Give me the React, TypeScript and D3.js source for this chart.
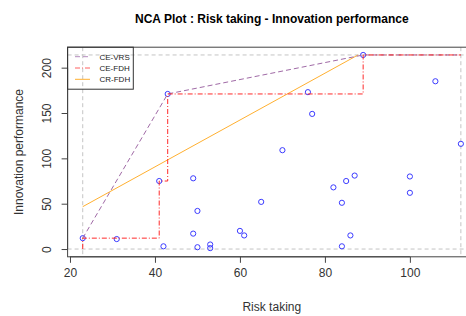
import React, { useRef, useEffect } from 'react'
import * as d3 from 'd3'

const riskTaking = [23, 31, 41, 42, 43, 49, 49, 50, 50, 53, 53, 60, 61, 65, 70, 76, 77, 82, 84, 84, 85, 86, 87, 89, 100, 100, 106, 112]
const innovation = [12, 11, 75, 3, 171, 78, 17, 42, 2, 5, 1, 20, 15, 52, 109, 173, 149, 68, 51, 3, 75, 15, 81, 214, 80, 62, 185, 116]

// ceiling lines
const ceVrs: [number, number][] = [[23, 12], [43, 171], [89, 214], [112, 214]]
const ceFdh: [number, number][] = [[23, 0], [23, 12], [41, 75], [43, 171], [89, 214], [112, 214]]
const crFdh: [number, number][] = [[23, 46.7], [87.8, 214]]

const xTicks = [20, 40, 60, 80, 100]
const yTicks = [0, 50, 100, 150, 200]
const legendLabels = ['CE-VRS', 'CE-FDH', 'CR-FDH']

const W = 466
const H = 316
const font = 'Liberation Sans, Arial, sans-serif'

const App = () => {
  const ref = useRef<SVGSVGElement>(null)

  useEffect(() => {
    const svg = d3.select(ref.current)
    svg.selectAll('*').remove()

    const xMin = d3.min(riskTaking)!, xMax = d3.max(riskTaking)!
    const yMax = d3.max(innovation)!
    const yMin = 0
    const xPad = (xMax - xMin) * 0.04
    const yPad = (yMax - yMin) * 0.04

    const left = 67.6, right = 476, top = 47.2, bottom = 256.8
    const x = d3.scaleLinear().domain([xMin - xPad, xMax + xPad]).range([left, right])
    const y = d3.scaleLinear().domain([yMin - yPad, yMax + yPad]).range([bottom, top])

    // scope lines
    const scope = svg.append('g')
      .attr('stroke', '#c4c4c4').attr('stroke-dasharray', '4,3').attr('stroke-width', 1)
    ;[xMin, xMax].forEach(v => scope.append('line')
      .attr('x1', x(v)).attr('x2', x(v)).attr('y1', top).attr('y2', bottom))
    ;[yMin, yMax].forEach(v => scope.append('line')
      .attr('x1', left).attr('x2', right).attr('y1', y(v)).attr('y2', y(v)))

    // points
    svg.append('g').selectAll('circle')
      .data(riskTaking.map((d, i) => [d, innovation[i]]))
      .join('circle')
      .attr('cx', d => x(d[0]))
      .attr('cy', d => y(d[1]))
      .attr('r', 2.6)
      .attr('fill', 'none')
      .attr('stroke', '#3b3bff')
      .attr('stroke-width', 1)

    const line = d3.line<[number, number]>().x(d => x(d[0])).y(d => y(d[1]))

    svg.append('path').datum(crFdh)
      .attr('d', line)
      .attr('fill', 'none').attr('stroke', '#ffb030').attr('stroke-width', 1)

    svg.append('path').datum(ceVrs)
      .attr('d', line)
      .attr('fill', 'none').attr('stroke', '#a06aa6').attr('stroke-width', 1)
      .attr('stroke-dasharray', '5,3')

    svg.append('path').datum(ceFdh)
      .attr('d', line.curve(d3.curveStepAfter))
      .attr('fill', 'none').attr('stroke', '#ff2a2a').attr('stroke-width', 1)
      .attr('stroke-dasharray', '5,2,1,2')

    // box
    svg.append('rect')
      .attr('x', left).attr('y', top)
      .attr('width', right - left).attr('height', bottom - top)
      .attr('fill', 'none').attr('stroke', '#444')

    // x axis
    const gx = svg.append('g')
      .attr('transform', `translate(0,${bottom})`)
      .call(d3.axisBottom(x).tickValues(xTicks).tickSize(6).tickPadding(6))
    gx.select('.domain').attr('d', `M${x(xTicks[0])},0H${x(xTicks[xTicks.length - 1])}`).attr('stroke', '#444')
    gx.selectAll('line').attr('stroke', '#444')
    gx.selectAll('text').attr('font-family', font).attr('font-size', 12).attr('fill', '#333')

    // y axis
    const gy = svg.append('g')
      .attr('transform', `translate(${left},0)`)
      .call(d3.axisLeft(y).tickValues(yTicks).tickSize(6))
    gy.select('.domain').attr('d', `M0,${y(yTicks[0])}V${y(yTicks[yTicks.length - 1])}`).attr('stroke', '#444')
    gy.selectAll('line').attr('stroke', '#444')
    gy.selectAll('text')
      .attr('font-family', font).attr('font-size', 12).attr('fill', '#333')
      .attr('x', null).attr('dy', null).attr('y', 0)
      .attr('text-anchor', 'middle')
      .attr('transform', 'translate(-17,0) rotate(-90)')

    // titles
    svg.append('text')
      .attr('x', (left + right) / 2).attr('y', 23)
      .attr('text-anchor', 'middle')
      .attr('font-family', font).attr('font-size', 12).attr('font-weight', 'bold')
      .text('NCA Plot : Risk taking - Innovation performance')
    svg.append('text')
      .attr('x', (left + right) / 2).attr('y', 311)
      .attr('text-anchor', 'middle')
      .attr('font-family', font).attr('font-size', 12).attr('fill', '#333')
      .text('Risk taking')
    svg.append('text')
      .attr('transform', `translate(22.5,${(top + bottom) / 2}) rotate(-90)`)
      .attr('text-anchor', 'middle')
      .attr('font-family', font).attr('font-size', 12).attr('fill', '#333')
      .text('Innovation performance')

    // legend
    const lg = svg.append('g')
    lg.append('rect')
      .attr('x', left).attr('y', top).attr('width', 65.7).attr('height', 42)
      .attr('fill', 'none').attr('stroke', '#333')
    const styles = [
      { c: '#b48cbe', dash: '5,3' },
      { c: '#ff6060', dash: '5,2,1,2' },
      { c: '#ffb030', dash: null },
    ]
    legendLabels.forEach((lab, i) => {
      const ly = 56.7 + i * 11.3
      lg.append('line')
        .attr('x1', 75).attr('x2', 90).attr('y1', ly).attr('y2', ly)
        .attr('stroke', styles[i].c).attr('stroke-dasharray', styles[i].dash)
      lg.append('text')
        .attr('x', 99.5).attr('y', ly + 3)
        .attr('font-family', font).attr('font-size', 8).attr('fill', '#222')
        .text(lab)
    })
  }, [])

  return (
    <svg ref={ref} width={W} height={H}
      style={{ position: 'absolute', left: 0, top: 0, background: '#fff' }} />
  )
}

export default App
